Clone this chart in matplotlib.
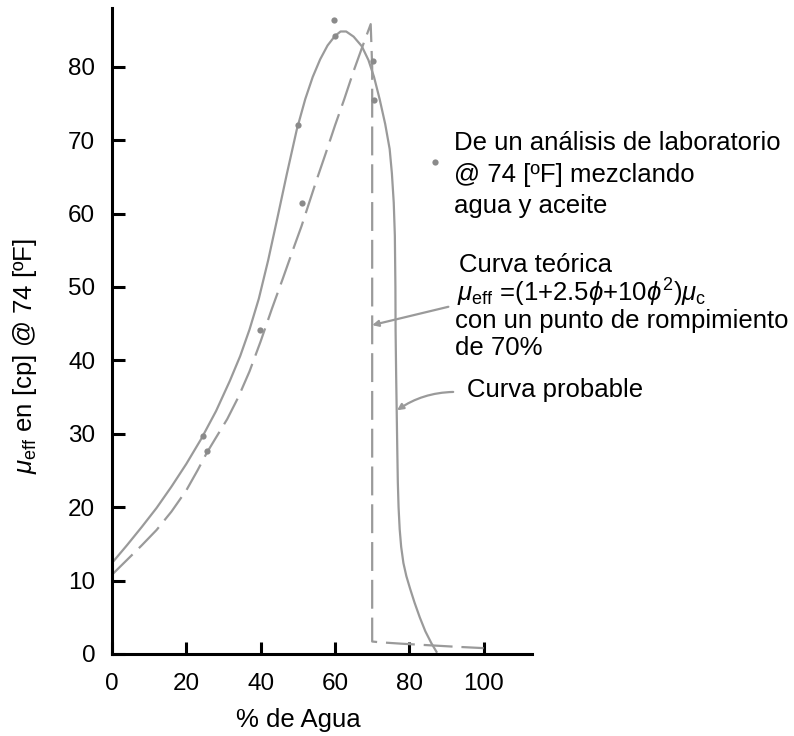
import numpy as np
import matplotlib
matplotlib.use("Agg")
import matplotlib.pyplot as plt

plt.rcParams['font.family'] = ['Liberation Sans', 'DejaVu Sans']
plt.rcParams['mathtext.fontset'] = 'custom'
plt.rcParams['mathtext.rm'] = 'Liberation Sans'
plt.rcParams['mathtext.it'] = 'Liberation Sans:italic'

# curva probable (solid)
prob_x = [0, 4, 8, 12, 16, 20, 24, 28, 31.7, 34.5, 37, 39.5, 42, 44.5, 47,
          49.7, 52, 54, 56, 58, 60, 61.5, 63, 65, 67.2, 69, 70.5, 72, 73.5, 74.7,
          75.3, 75.8, 76.1, 76.25, 76.3, 76.45, 76.6, 76.75, 76.9, 77.1, 77.4,
          77.8, 78.4, 79.2, 80.2, 81.4, 82.8, 84.3, 85.9, 87.3]
prob_y = [12.4, 14.8, 17.3, 19.9, 22.8, 25.9, 29.3, 33.1, 37.2, 40.6, 44.2, 48.4,
          53.6, 59.4, 65.3, 71.4, 75.6, 78.6, 81, 82.9, 84.2, 84.8, 84.8, 84.1,
          82.8, 80.9, 78.6, 75.6, 72.2, 68.8, 65.5, 61.5, 57, 50, 44, 38, 33, 28,
          23.4, 20, 17, 14.6, 12.4, 10.6, 8.9, 7.0, 5, 3.1, 1.5, 0.3]

# curva teorica (dashed)
teo_x = [0, 4, 8, 12, 16, 20, 23, 25.5, 28, 31, 34, 37, 40, 43, 46, 49, 51, 53,
         55, 57.5, 60, 62.5, 65, 67.2, 69.6, 70, 70, 72, 78, 85, 92, 100]
teo_y = [10.8, 12.8, 14.8, 16.9, 19.4, 22.3, 25.0, 27.4, 29.5, 32.0, 35.0, 38.5,
         42.6, 47.0, 51.2, 55.5, 58.3, 61.4, 64.5, 68.2, 72, 75.6, 79.4, 82.5,
         85.8, 80, 1.7, 1.6, 1.4, 1.2, 1.0, 0.8]

# datos de laboratorio
lab_x = [24.5, 25.5, 39.8, 50, 51, 60, 59.8, 70.2, 70.4]
lab_y = [29.7, 27.6, 44.2, 72, 61.5, 84.2, 86.3, 80.8, 75.5]

xticks = [0, 20, 40, 60, 80, 100]
yticks = [0, 10, 20, 30, 40, 50, 60, 70, 80]

gray = '#9a9a9a'

fig = plt.figure(figsize=(7.94, 7.36), dpi=100)
W, H = 794, 736
ax = fig.add_axes([112 / W, 1 - 654 / H, 420 / W, 646 / H])

ax.plot(prob_x, prob_y, color=gray, lw=1.6)
ax.plot(teo_x, teo_y, color=gray, lw=1.6, dashes=[13, 4])
ax.plot(lab_x, lab_y, 'o', color='#8a8a8a', ms=4.5, mec='none')

ax.set_xlim(0, 113)
ax.set_ylim(0, 88)
ax.set_xticks(xticks)
ax.set_yticks(yticks)
for s in ['top', 'right']:
    ax.spines[s].set_visible(False)
for s in ['left', 'bottom']:
    ax.spines[s].set_linewidth(2.2)
ax.tick_params(direction='in', length=9, width=2.2, labelsize=17.5, pad=12)
ax.tick_params(axis='x', pad=14)

ax.set_xlabel('% de Agua', fontsize=18.5)
ax.xaxis.set_label_coords((298 - 112) / 420, -(720 - 654) / 646)
ax.set_ylabel(r'$\mu_{\mathrm{eff}}$ en [cp] @ 74 [ºF]', fontsize=18.5)
ax.yaxis.set_label_coords(-(112 - 25) / 420, (654 - 356) / 646)
ax.yaxis.label.set_va('center')
ax.xaxis.label.set_va('center')

# leyenda del punto de laboratorio
ax.plot([87], [67], 'o', color='#8a8a8a', ms=4.5, mec='none', clip_on=False)


def ftext(px, py, s, **kw):
    fig.text(px / W, 1 - py / H, s, fontsize=18.5, va='center', ha='left', **kw)


ftext(454, 143, 'De un análisis de laboratorio')
ftext(454, 175, '@ 74 [ºF] mezclando')
ftext(454, 206, 'agua y aceite')

ftext(459, 265, 'Curva teórica')
ftext(457, 293, r'$\mu_{\mathrm{eff}}$ =(1+2.5$\phi$+10$\phi^2$)$\mu_{\mathrm{c}}$')
ftext(455, 321, 'con un punto de rompimiento')
ftext(455, 348, 'de 70%')

ftext(467, 390, 'Curva probable')

ax.annotate('', xy=(70.0, 44.8), xytext=(90.5, 47.3),
            arrowprops=dict(arrowstyle='-|>', color=gray, lw=1.6,
                            mutation_scale=9, shrinkA=0, shrinkB=0))
ax.annotate('', xy=(76.7, 33.2), xytext=(91.8, 35.7),
            arrowprops=dict(arrowstyle='-|>', color=gray, lw=1.6,
                            mutation_scale=9, shrinkA=0, shrinkB=0,
                            connectionstyle='arc3,rad=0.15'), annotation_clip=False)

fig.savefig('out.png', dpi=100)
